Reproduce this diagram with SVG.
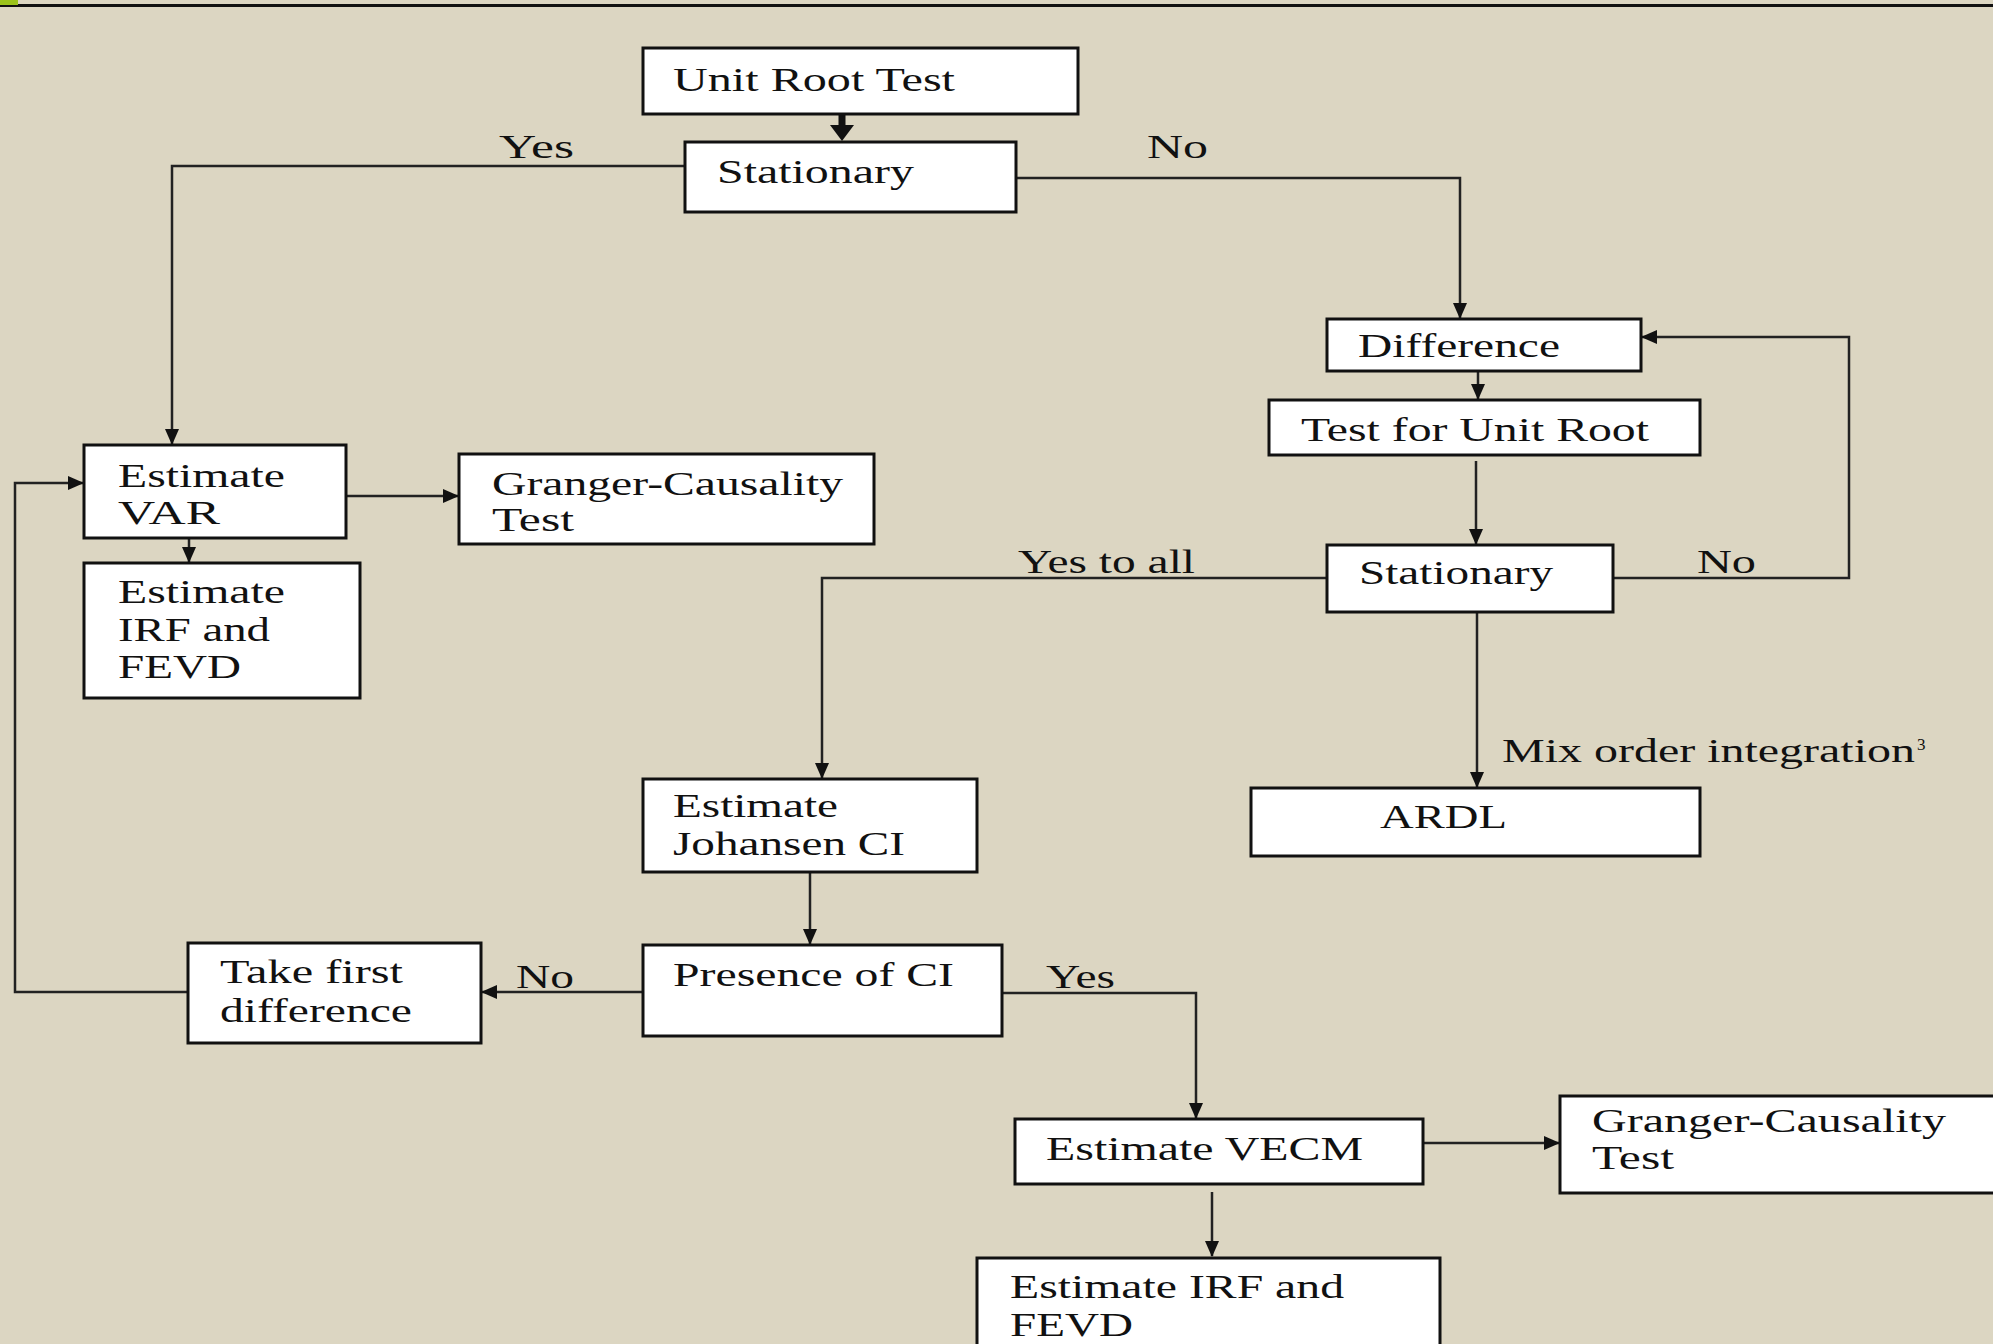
<svg xmlns="http://www.w3.org/2000/svg" width="1993" height="1344" viewBox="0 0 1993 1344">
<style>
.bg{fill:#DCD6C2}
.box{fill:#FFFFFF;stroke:#111;stroke-width:3}
.c{fill:none;stroke:#222;stroke-width:2.5}
.t{font-family:"Liberation Serif","Times New Roman",serif;font-size:34px;fill:#111}
.sup{font-family:"Liberation Serif","Times New Roman",serif;font-size:17px;fill:#111}
</style>
<defs>
<marker id="ah" markerUnits="userSpaceOnUse" markerWidth="16" markerHeight="16" viewBox="0 0 16 16" refX="15" refY="8" orient="auto">
<path d="M0,1 L16,8 L0,15 Z" fill="#111"/>
</marker>
</defs>
<rect class="bg" x="0" y="0" width="1993" height="1344"/>
<rect x="0" y="4" width="1993" height="3" fill="#111"/>
<rect x="0" y="0" width="18" height="5" fill="#9BC31B"/>

<g id="connectors">
<line x1="842" y1="114" x2="842" y2="126" stroke="#111" stroke-width="7"/>
<path d="M830,125 L854,125 L842,141 Z" fill="#111"/>
<path class="c" d="M685,166 H172 V444" marker-end="url(#ah)"/>
<path class="c" d="M1016,178 H1460 V318" marker-end="url(#ah)"/>
<path class="c" d="M1478,371 V399" marker-end="url(#ah)"/>
<path class="c" d="M1476,461 V544" marker-end="url(#ah)"/>
<path class="c" d="M1613,578 H1849 V337 H1642" marker-end="url(#ah)"/>
<path class="c" d="M1327,578 H822 V778" marker-end="url(#ah)"/>
<path class="c" d="M1477,612 V787" marker-end="url(#ah)"/>
<path class="c" d="M346,496 H458" marker-end="url(#ah)"/>
<path class="c" d="M189,538 V562" marker-end="url(#ah)"/>
<path class="c" d="M810,872 V944" marker-end="url(#ah)"/>
<path class="c" d="M643,992 H482" marker-end="url(#ah)"/>
<path class="c" d="M188,992 H15 V483 H83" marker-end="url(#ah)"/>
<path class="c" d="M1002,993 H1196 V1118" marker-end="url(#ah)"/>
<path class="c" d="M1423,1143 H1559" marker-end="url(#ah)"/>
<path class="c" d="M1212,1192 V1256" marker-end="url(#ah)"/>
<text class="t" x="499" y="158" textLength="75" lengthAdjust="spacingAndGlyphs">Yes</text>
<text class="t" x="1147" y="158" textLength="61" lengthAdjust="spacingAndGlyphs">No</text>
<text class="t" x="1018" y="573" textLength="177" lengthAdjust="spacingAndGlyphs">Yes to all</text>
<text class="t" x="1697" y="573" textLength="59" lengthAdjust="spacingAndGlyphs">No</text>
<text class="t" x="1502" y="762" textLength="413" lengthAdjust="spacingAndGlyphs">Mix order integration</text>
<text class="sup" x="1917" y="750">3</text>
<text class="t" x="516" y="988" textLength="58" lengthAdjust="spacingAndGlyphs">No</text>
<text class="t" x="1046" y="988" textLength="69" lengthAdjust="spacingAndGlyphs">Yes</text>
</g>

<g id="unit-root-test">
<rect class="box" x="643" y="48" width="435" height="66"/>
<text class="t" x="673" y="91" textLength="282" lengthAdjust="spacingAndGlyphs">Unit Root Test</text>
</g>
<g id="stationary-1">
<rect class="box" x="685" y="142" width="331" height="70"/>
<text class="t" x="717" y="183" textLength="197" lengthAdjust="spacingAndGlyphs">Stationary</text>
</g>
<g id="difference">
<rect class="box" x="1327" y="319" width="314" height="52"/>
<text class="t" x="1358" y="357" textLength="202" lengthAdjust="spacingAndGlyphs">Difference</text>
</g>
<g id="test-unit-root">
<rect class="box" x="1269" y="400" width="431" height="55"/>
<text class="t" x="1301" y="441" textLength="348" lengthAdjust="spacingAndGlyphs">Test for Unit Root</text>
</g>
<g id="stationary-2">
<rect class="box" x="1327" y="545" width="286" height="67"/>
<text class="t" x="1359" y="584" textLength="194" lengthAdjust="spacingAndGlyphs">Stationary</text>
</g>
<g id="ardl">
<rect class="box" x="1251" y="788" width="449" height="68"/>
<text class="t" x="1380" y="828" textLength="127" lengthAdjust="spacingAndGlyphs">ARDL</text>
</g>
<g id="estimate-var">
<rect class="box" x="84" y="445" width="262" height="93"/>
<text class="t" x="118" y="487" textLength="167" lengthAdjust="spacingAndGlyphs">Estimate</text>
<text class="t" x="118" y="524" textLength="102" lengthAdjust="spacingAndGlyphs">VAR</text>
</g>
<g id="granger-1">
<rect class="box" x="459" y="454" width="415" height="90"/>
<text class="t" x="492" y="495" textLength="351" lengthAdjust="spacingAndGlyphs">Granger-Causality</text>
<text class="t" x="492" y="531" textLength="82" lengthAdjust="spacingAndGlyphs">Test</text>
</g>
<g id="irf-fevd-1">
<rect class="box" x="84" y="563" width="276" height="135"/>
<text class="t" x="118" y="603" textLength="167" lengthAdjust="spacingAndGlyphs">Estimate</text>
<text class="t" x="118" y="641" textLength="152" lengthAdjust="spacingAndGlyphs">IRF and</text>
<text class="t" x="118" y="678" textLength="123" lengthAdjust="spacingAndGlyphs">FEVD</text>
</g>
<g id="johansen">
<rect class="box" x="643" y="779" width="334" height="93"/>
<text class="t" x="673" y="817" textLength="165" lengthAdjust="spacingAndGlyphs">Estimate</text>
<text class="t" x="673" y="855" textLength="232" lengthAdjust="spacingAndGlyphs">Johansen CI</text>
</g>
<g id="presence-ci">
<rect class="box" x="643" y="945" width="359" height="91"/>
<text class="t" x="673" y="986" textLength="281" lengthAdjust="spacingAndGlyphs">Presence of CI</text>
</g>
<g id="take-first-difference">
<rect class="box" x="188" y="943" width="293" height="100"/>
<text class="t" x="220" y="983" textLength="183" lengthAdjust="spacingAndGlyphs">Take first</text>
<text class="t" x="220" y="1022" textLength="192" lengthAdjust="spacingAndGlyphs">difference</text>
</g>
<g id="estimate-vecm">
<rect class="box" x="1015" y="1119" width="408" height="65"/>
<text class="t" x="1046" y="1160" textLength="317" lengthAdjust="spacingAndGlyphs">Estimate VECM</text>
</g>
<g id="granger-2">
<rect class="box" x="1560" y="1096" width="440" height="97"/>
<text class="t" x="1592" y="1132" textLength="354" lengthAdjust="spacingAndGlyphs">Granger-Causality</text>
<text class="t" x="1592" y="1169" textLength="82" lengthAdjust="spacingAndGlyphs">Test</text>
</g>
<g id="irf-fevd-2">
<rect class="box" x="977" y="1258" width="463" height="100"/>
<text class="t" x="1010" y="1298" textLength="334" lengthAdjust="spacingAndGlyphs">Estimate IRF and</text>
<text class="t" x="1010" y="1336" textLength="123" lengthAdjust="spacingAndGlyphs">FEVD</text>
</g>
</svg>
